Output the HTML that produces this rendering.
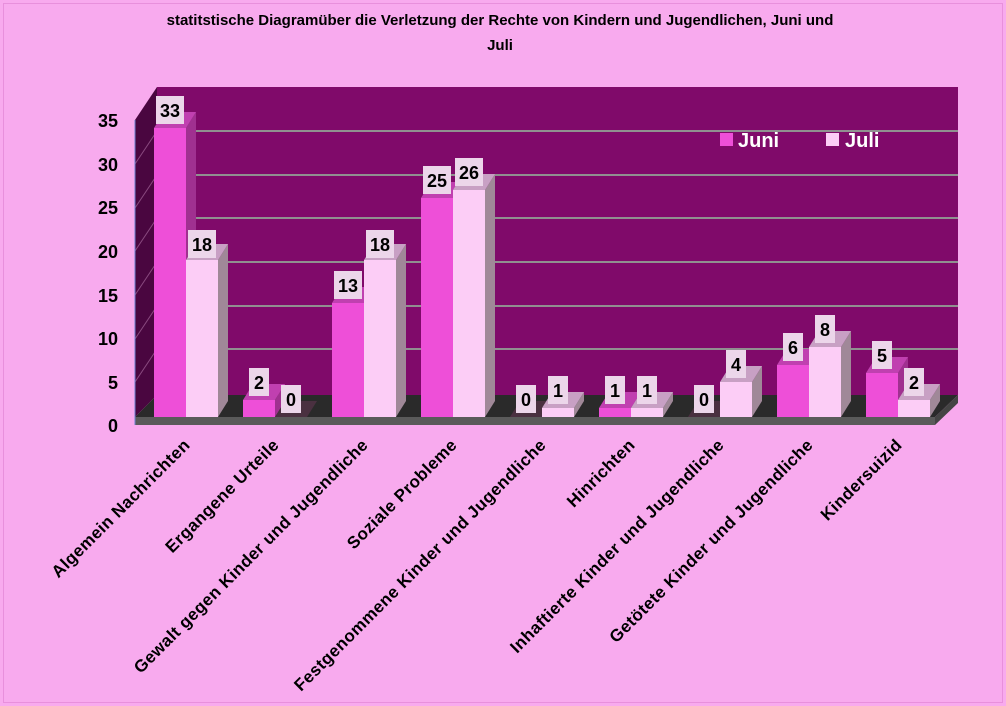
<!DOCTYPE html>
<html><head><style>body{margin:0;background:#f8aaee}svg{display:block}</style></head><body>
<svg width="1006" height="706" xmlns="http://www.w3.org/2000/svg" font-family="Liberation Sans, sans-serif">
<rect x="0" y="0" width="1006" height="706" fill="#f8aaee"/>
<rect x="3.5" y="3.5" width="999" height="699" fill="none" stroke="#e890dc" stroke-width="1"/>
<text x="500" y="25" text-anchor="middle" font-size="15" font-weight="bold">statitstische Diagramüber die Verletzung der Rechte von Kindern und Jugendlichen, Juni und</text>
<text x="500" y="50" text-anchor="middle" font-size="15" font-weight="bold">Juli</text>
<polygon points="157,87 958,87 958,395 157,395" fill="#800a6a"/>
<polygon points="135,120 157,87 157,395 135,417" fill="#4a0640"/>
<g stroke="#909090" stroke-width="2">
<line x1="157" y1="131" x2="958" y2="131"/><line x1="157" y1="175" x2="958" y2="175"/>
<line x1="157" y1="218" x2="958" y2="218"/><line x1="157" y1="262" x2="958" y2="262"/>
<line x1="157" y1="306" x2="958" y2="306"/><line x1="157" y1="349" x2="958" y2="349"/>
</g>
<g stroke="#8a4a80" stroke-width="1">
<line x1="135" y1="164" x2="157" y2="131"/><line x1="135" y1="208" x2="157" y2="175"/>
<line x1="135" y1="251" x2="157" y2="218"/><line x1="135" y1="295" x2="157" y2="262"/>
<line x1="135" y1="339" x2="157" y2="306"/><line x1="135" y1="382" x2="157" y2="349"/>
</g>
<polygon points="135,417 935,417 958,395 157,395" fill="#2a2a2a"/>
<polygon points="135,417 935,417 935,425 135,425" fill="#5a5a5a"/>
<polygon points="935,417 958,395 958,403 935,425" fill="#444"/>
<line x1="135" y1="120" x2="135" y2="425" stroke="#6a80d0" stroke-width="1"/>
<g font-size="18" font-weight="bold" text-anchor="end">
<text x="118" y="127">35</text><text x="118" y="171">30</text><text x="118" y="214">25</text>
<text x="118" y="258">20</text><text x="118" y="302">15</text><text x="118" y="345">10</text>
<text x="118" y="389">5</text><text x="118" y="432">0</text>
</g>
<rect x="720" y="133" width="13" height="13" fill="#ee4fd8"/>
<text x="738" y="147" font-size="20" font-weight="bold" fill="#fff">Juni</text>
<rect x="826" y="133" width="13" height="13" fill="#fccdf6"/>
<text x="845" y="147" font-size="20" font-weight="bold" fill="#fff">Juli</text>

<g>
<polygon points="186,128 196,112 196,401 186,417" fill="#a03090"/><rect x="154" y="128" width="32" height="289" fill="#ee4fd8"/><polygon points="154,128 186,128 196,112 164,112" fill="#c040b0"/>
<polygon points="218,260 228,244 228,401 218,417" fill="#a08898"/><rect x="186" y="260" width="32" height="157" fill="#fccdf6"/><polygon points="186,260 218,260 228,244 196,244" fill="#c8a0c4"/>
<polygon points="275,400 285,384 285,401 275,417" fill="#a03090"/><rect x="243" y="400" width="32" height="17" fill="#ee4fd8"/><polygon points="243,400 275,400 285,384 253,384" fill="#c040b0"/>
<polygon points="275,417 307,417 317,401 285,401" fill="#4a3040"/>
<polygon points="364,303 374,287 374,401 364,417" fill="#a03090"/><rect x="332" y="303" width="32" height="114" fill="#ee4fd8"/><polygon points="332,303 364,303 374,287 342,287" fill="#c040b0"/>
<polygon points="396,260 406,244 406,401 396,417" fill="#a08898"/><rect x="364" y="260" width="32" height="157" fill="#fccdf6"/><polygon points="364,260 396,260 406,244 374,244" fill="#c8a0c4"/>
<polygon points="453,198 463,182 463,401 453,417" fill="#a03090"/><rect x="421" y="198" width="32" height="219" fill="#ee4fd8"/><polygon points="421,198 453,198 463,182 431,182" fill="#c040b0"/>
<polygon points="485,190 495,174 495,401 485,417" fill="#a08898"/><rect x="453" y="190" width="32" height="227" fill="#fccdf6"/><polygon points="453,190 485,190 495,174 463,174" fill="#c8a0c4"/>
<polygon points="510,417 542,417 552,401 520,401" fill="#4a3040"/>
<polygon points="574,408 584,392 584,401 574,417" fill="#a08898"/><rect x="542" y="408" width="32" height="9" fill="#fccdf6"/><polygon points="542,408 574,408 584,392 552,392" fill="#c8a0c4"/>
<polygon points="631,408 641,392 641,401 631,417" fill="#a03090"/><rect x="599" y="408" width="32" height="9" fill="#ee4fd8"/><polygon points="599,408 631,408 641,392 609,392" fill="#c040b0"/>
<polygon points="663,408 673,392 673,401 663,417" fill="#a08898"/><rect x="631" y="408" width="32" height="9" fill="#fccdf6"/><polygon points="631,408 663,408 673,392 641,392" fill="#c8a0c4"/>
<polygon points="688,417 720,417 730,401 698,401" fill="#4a3040"/>
<polygon points="752,382 762,366 762,401 752,417" fill="#a08898"/><rect x="720" y="382" width="32" height="35" fill="#fccdf6"/><polygon points="720,382 752,382 762,366 730,366" fill="#c8a0c4"/>
<polygon points="809,365 819,349 819,401 809,417" fill="#a03090"/><rect x="777" y="365" width="32" height="52" fill="#ee4fd8"/><polygon points="777,365 809,365 819,349 787,349" fill="#c040b0"/>
<polygon points="841,347 851,331 851,401 841,417" fill="#a08898"/><rect x="809" y="347" width="32" height="70" fill="#fccdf6"/><polygon points="809,347 841,347 851,331 819,331" fill="#c8a0c4"/>
<polygon points="898,373 908,357 908,401 898,417" fill="#a03090"/><rect x="866" y="373" width="32" height="44" fill="#ee4fd8"/><polygon points="866,373 898,373 908,357 876,357" fill="#c040b0"/>
<polygon points="930,400 940,384 940,401 930,417" fill="#a08898"/><rect x="898" y="400" width="32" height="17" fill="#fccdf6"/><polygon points="898,400 930,400 940,384 908,384" fill="#c8a0c4"/>
</g>

<g fill="#ecd6ea">
<rect x="156" y="96" width="28" height="28"/><rect x="188" y="230" width="28" height="28"/>
<rect x="249" y="368" width="20" height="28"/><rect x="281" y="385" width="20" height="28"/>
<rect x="334" y="271" width="28" height="28"/><rect x="366" y="230" width="28" height="28"/>
<rect x="423" y="166" width="28" height="28"/><rect x="455" y="158" width="28" height="28"/>
<rect x="516" y="385" width="20" height="28"/><rect x="548" y="376" width="20" height="28"/>
<rect x="605" y="376" width="20" height="28"/><rect x="637" y="376" width="20" height="28"/>
<rect x="694" y="385" width="20" height="28"/><rect x="726" y="350" width="20" height="28"/>
<rect x="783" y="333" width="20" height="28"/><rect x="815" y="315" width="20" height="28"/>
<rect x="872" y="341" width="20" height="28"/><rect x="904" y="368" width="20" height="28"/>
</g>
<g font-size="18" font-weight="bold" text-anchor="middle">
<text x="170" y="117">33</text><text x="202" y="251">18</text>
<text x="259" y="389">2</text><text x="291" y="406">0</text>
<text x="348" y="292">13</text><text x="380" y="251">18</text>
<text x="437" y="187">25</text><text x="469" y="179">26</text>
<text x="526" y="406">0</text><text x="558" y="397">1</text>
<text x="615" y="397">1</text><text x="647" y="397">1</text>
<text x="704" y="406">0</text><text x="736" y="371">4</text>
<text x="793" y="354">6</text><text x="825" y="336">8</text>
<text x="882" y="362">5</text><text x="914" y="389">2</text>
</g>

<g font-size="17" font-weight="bold" text-anchor="end" letter-spacing="0.4">
<text transform="translate(191,446) rotate(-45)">Algemein Nachrichten</text>
<text transform="translate(280,446) rotate(-45)">Ergangene Urteile</text>
<text transform="translate(369,446) rotate(-45)">Gewalt gegen Kinder und Jugendliche</text>
<text transform="translate(458,446) rotate(-45)">Soziale Probleme</text>
<text transform="translate(547,446) rotate(-45)">Festgenommene Kinder und Jugendliche</text>
<text transform="translate(636,446) rotate(-45)">Hinrichten</text>
<text transform="translate(725,446) rotate(-45)">Inhaftierte Kinder und Jugendliche</text>
<text transform="translate(814,446) rotate(-45)">Getötete Kinder und Jugendliche</text>
<text transform="translate(903,446) rotate(-45)">Kindersuizid</text>
</g>
</svg>
</body></html>
